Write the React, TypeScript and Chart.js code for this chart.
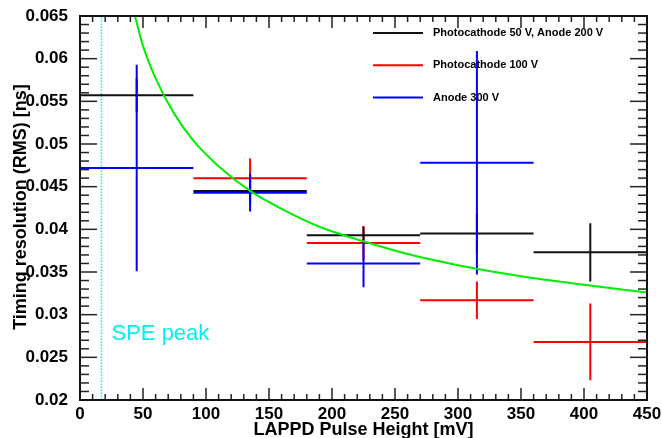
import React, { useEffect, useRef } from "react";
import { Chart, registerables } from "chart.js";
Chart.register(...registerables);

const FONT = "'Liberation Sans', Arial, Helvetica, sans-serif";

// Bins (LAPPD pulse height, mV)
const binEdges = [0, 90, 180, 270, 360, 450];
const binCenters = [45, 135, 225, 315, 405];

// Series: timing resolution (RMS) [ns] and vertical errors
const pc50an200Label = "Photocathode 50 V, Anode 200 V";
const pc50an200Values = [0.0557, 0.0445, 0.0393, 0.0395, 0.0373];
const pc50an200Errors = [0.002, 0.0015, 0.001, 0.0023, 0.0034];

const pc100Label = "Photocathode 100 V";
const pc100Values = [null, 0.046, 0.0384, 0.0317, 0.0268];
const pc100Errors = [null, 0.0023, 0.002, 0.0022, 0.0045];

const an300Label = "Anode 300 V";
const an300Values = [0.0472, 0.0443, 0.036, 0.0478, null];
const an300Errors = [0.0121, 0.0022, 0.0028, 0.0131, null];

// Green fit curve
const fitX = [43.6, 50, 60, 75, 90, 110, 135, 160, 190, 225, 260, 300, 350, 400, 450];
const fitY = [0.065, 0.0615, 0.0577, 0.0535, 0.0504, 0.0474, 0.0445, 0.0424, 0.0403, 0.0386, 0.0371, 0.0358, 0.0345, 0.0335, 0.0326];

// SPE peak marker
const speX = 17;
const speLabel = "SPE peak";
const speLabelPos = { x: 25, y: 0.0278 };

// Axes
const xTicks = [0, 50, 100, 150, 200, 250, 300, 350, 400, 450];
const yTicks = [0.02, 0.025, 0.03, 0.035, 0.04, 0.045, 0.05, 0.055, 0.06, 0.065];
const xTitle = "LAPPD Pulse Height [mV]";
const yTitle = "Timing resolution (RMS) [ns]";

const BLACK = "#111111";
const RED = "#ff0000";
const BLUE = "#0000ff";
const GREEN = "#00ee00";
const CYAN = "#00f0f0";

function errorBarPoints(values: (number | null)[], errors: (number | null)[]) {
  const pts: { x: number; y: number | null }[] = [];
  values.forEach((v, i) => {
    if (v == null) return;
    const e = errors[i] as number;
    pts.push({ x: binEdges[i], y: v }, { x: binEdges[i + 1], y: v }, { x: binCenters[i], y: null });
    pts.push({ x: binCenters[i], y: v - e }, { x: binCenters[i], y: v + e }, { x: binCenters[i], y: null });
  });
  return pts;
}

const legendEntries = [
  { label: pc50an200Label, color: BLACK },
  { label: pc100Label, color: RED },
  { label: an300Label, color: BLUE },
];

const framePlugin = {
  id: "rootFrame",
  afterDraw(chart: any) {
    const { ctx, chartArea: a, scales } = chart;
    const x = scales.x;
    const y = scales.y;
    ctx.save();
    ctx.strokeStyle = "#222";
    ctx.lineWidth = 1.5;
    const line = (x1: number, y1: number, x2: number, y2: number) => {
      ctx.beginPath();
      ctx.moveTo(x1, y1);
      ctx.lineTo(x2, y2);
      ctx.stroke();
    };
    for (let k = 0; k <= 45; k++) {
      const v = k * 10;
      const px = x.getPixelForValue(v);
      const len = v % 50 === 0 ? 12 : 6;
      line(px, a.bottom, px, a.bottom - len);
      line(px, a.top, px, a.top + len);
    }
    for (let k = 20; k <= 65; k++) {
      const v = k / 1000;
      const py = y.getPixelForValue(v);
      const len = k % 5 === 0 ? 17 : 9;
      line(a.left, py, a.left + len, py);
      line(a.right, py, a.right - len, py);
    }
    ctx.lineWidth = 2;
    ctx.strokeStyle = "#111";
    ctx.strokeRect(a.left, a.top, a.right - a.left, a.bottom - a.top);

    // axis titles
    ctx.fillStyle = "#000";
    ctx.font = `bold 18px ${FONT}`;
    ctx.textAlign = "center";
    ctx.textBaseline = "alphabetic";
    ctx.fillText(xTitle, (a.left + a.right) / 2, 435);
    ctx.save();
    ctx.translate(26, (a.top + a.bottom) / 2 - 1);
    ctx.rotate(-Math.PI / 2);
    ctx.fillText(yTitle, 0, 0);
    ctx.restore();

    // SPE label
    ctx.fillStyle = CYAN;
    ctx.font = `22px ${FONT}`;
    ctx.textAlign = "left";
    ctx.textBaseline = "middle";
    ctx.fillText(speLabel, x.getPixelForValue(speLabelPos.x), y.getPixelForValue(speLabelPos.y));

    // legend
    const lx = a.right - 274;
    const ly = a.top + 17;
    ctx.font = `bold 11px ${FONT}`;
    legendEntries.forEach((e, i) => {
      const yy = ly + i * 32.3;
      ctx.strokeStyle = e.color;
      ctx.lineWidth = 2;
      line(lx, yy, lx + 50, yy);
      ctx.fillStyle = "#000";
      ctx.fillText(e.label, lx + 60, yy);
    });
    ctx.restore();
  },
};

export default function App() {
  const ref = useRef<HTMLCanvasElement | null>(null);
  useEffect(() => {
    document.body.style.margin = "0";
    const canvas = ref.current;
    if (!canvas) return;
    const lineDs = (label: string, data: any[], color: string, extra: any = {}) => ({
      type: "line",
      label,
      data,
      borderColor: color,
      backgroundColor: color,
      borderWidth: 2,
      pointRadius: 0,
      pointHoverRadius: 0,
      spanGaps: false,
      tension: 0,
      fill: false,
      ...extra,
    });
    // Chart.js draws dataset 0 on top: list from top-most to bottom-most
    const chart = new Chart(canvas, {
      type: "line",
      data: {
        datasets: [
          lineDs("fit", fitX.map((xv, i) => ({ x: xv, y: fitY[i] })), GREEN, {
            tension: 0.4,
            cubicInterpolationMode: "monotone",
          }),
          lineDs(an300Label, errorBarPoints(an300Values, an300Errors), BLUE),
          lineDs(pc50an200Label, errorBarPoints(pc50an200Values, pc50an200Errors), BLACK),
          lineDs(pc100Label, errorBarPoints(pc100Values, pc100Errors), RED),
          lineDs("SPE", [{ x: speX, y: yTicks[0] }, { x: speX, y: yTicks[yTicks.length - 1] }], CYAN, {
            borderWidth: 1.5,
            borderDash: [1.5, 1.5],
          }),
        ] as any,
      },
      options: {
        animation: false,
        responsive: false,
        events: [],
        layout: { padding: { left: 0, top: 16, right: 15, bottom: 0 } },
        plugins: { legend: { display: false }, tooltip: { enabled: false } },
        scales: {
          x: {
            type: "linear",
            min: 0,
            max: 450,
            grid: { display: false },
            border: { display: false },
            ticks: {
              font: { family: FONT, size: 17, weight: "bold" },
              color: "#000",
              padding: -4,
              maxRotation: 0,
              minRotation: 0,
              autoSkip: false,
              callback: (v: any) => String(v),
            },
            afterBuildTicks: (s: any) => {
              s.ticks = xTicks.map((v) => ({ value: v }));
            },
            afterFit: (s: any) => {
              s.height = 38;
              s.paddingLeft = 0;
              s.paddingRight = 0;
            },
          },
          y: {
            type: "linear",
            min: 0.02,
            max: 0.065,
            grid: { display: false },
            border: { display: false },
            ticks: {
              font: { family: FONT, size: 17, weight: "bold" },
              color: "#000",
              padding: 4,
              autoSkip: false,
              callback: (v: any) => String(Number(Number(v).toFixed(3))),
            },
            afterBuildTicks: (s: any) => {
              s.ticks = yTicks.map((v) => ({ value: v }));
            },
            afterFit: (s: any) => {
              s.width = 80;
              s.paddingTop = 0;
              s.paddingBottom = 0;
            },
          },
        },
      } as any,
      plugins: [framePlugin],
    });
    return () => chart.destroy();
  }, []);
  return (
    <div style={{ position: "absolute", left: 0, top: 0, width: 662, height: 438, background: "#fff" }}>
      <canvas ref={ref} width={662} height={438} style={{ display: "block" }} />
    </div>
  );
}
